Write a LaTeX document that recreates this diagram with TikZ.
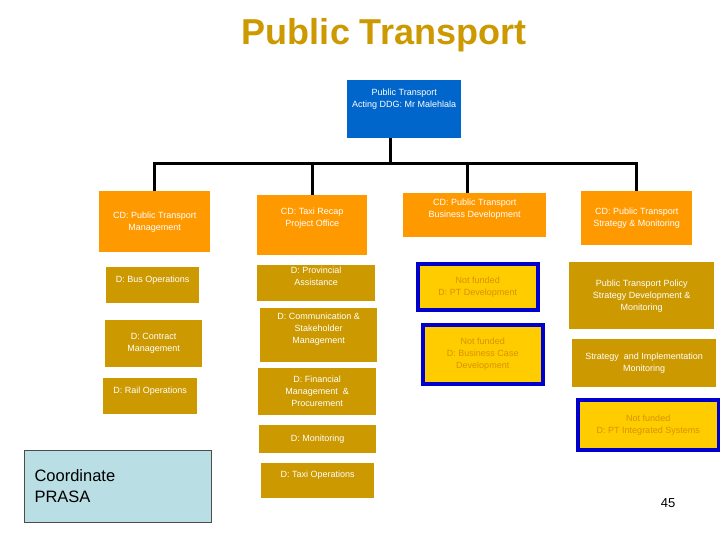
\documentclass[tikz,border=0pt]{standalone}
\usepackage{fontspec}
\setmainfont{Liberation Sans}
\definecolor{org}{HTML}{FF9900}
\definecolor{gld}{HTML}{CC9900}
\definecolor{yel}{HTML}{FFCC00}
\definecolor{ytx}{HTML}{D99200}
\definecolor{bbl}{HTML}{0066CC}
\definecolor{nbl}{HTML}{0000CC}
\definecolor{lbl}{HTML}{B9DFE5}
\begin{document}
\begin{tikzpicture}[x=1pt,y=-1pt,
  bx/.style={anchor=north west,inner sep=0pt,align=center,text=white,font=\fontsize{9}{12}\selectfont},
  ob/.style={bx,fill=org},
  gb/.style={bx,fill=gld},
  nb/.style={bx,fill=yel,draw=nbl,line width=3.5pt,text=ytx},
  ln/.style={line width=3pt}]
\useasboundingbox[fill=white] (0,0) rectangle (720,540);
\node[font=\bfseries\fontsize{36}{42}\selectfont,text=gld] (title) at (384,35) {Public Transport};
\node[bx,fill=bbl,minimum width=114pt,minimum height=58pt] (top) at (347,80) {Public Transport\\Acting DDG: Mr Malehlala\\[10pt]};
% column 1
\node[ob,minimum width=111pt,minimum height=61pt] (c1) at (99,191) {CD: Public Transport\\Management};
\node[gb,minimum width=93pt,minimum height=36pt] (c1a) at (106,267) {D: Bus Operations\\[0pt]};
\node[gb,minimum width=97pt,minimum height=47pt] (c1b) at (105,320) {D: Contract\\Management};
\node[gb,minimum width=94pt,minimum height=36pt] (c1c) at (103,378) {D: Rail Operations\\[0pt]};
\node[anchor=north west,draw=black!70,fill=lbl,minimum width=187pt,minimum height=72pt,inner sep=0pt] (prasa) at (24,450) {};
\node[anchor=west,align=left,font=\fontsize{16.5}{21}\selectfont] (prasat) at (31,486) {Coordinate\\PRASA};
% column 2
\node[ob,minimum width=110pt,minimum height=60pt] (c2) at (257,195) {CD: Taxi Recap\\Project Office\\[4pt]};
\node[gb,minimum width=118pt,minimum height=36pt] (c2a) at (257,265) {D: Provincial\\Assistance\\[2pt]};
\node[gb,minimum width=117pt,minimum height=54pt] (c2b) at (260,308) {D: Communication \&\\Stakeholder\\Management\\[2pt]};
\node[gb,minimum width=118pt,minimum height=47pt] (c2c) at (258,368) {D: Financial\\Management \ \&\\Procurement};
\node[gb,minimum width=117pt,minimum height=28pt] (c2d) at (259,425) {D: Monitoring};
\node[gb,minimum width=113pt,minimum height=35pt] (c2e) at (261,463) {D: Taxi Operations\\[0pt]};
% column 3
\node[ob,minimum width=143pt,minimum height=44pt] (c3) at (403,193) {CD: Public Transport\\Business Development\\[2pt]};
\node[nb,minimum width=120pt,minimum height=46pt] (c3a) at (416,262) {Not funded\\D: PT Development};
\node[nb,minimum width=120pt,minimum height=59pt] (c3b) at (421,323) {Not funded\\D: Business Case\\Development};
% column 4
\node[ob,minimum width=111pt,minimum height=54pt] (c4) at (581,191) {CD: Public Transport\\Strategy \& Monitoring};
\node[gb,minimum width=145pt,minimum height=67pt] (c4a) at (569,262) {Public Transport Policy\\Strategy Development \&\\Monitoring};
\node[gb,minimum width=144pt,minimum height=48pt] (c4b) at (572,339) {Strategy \ and Implementation\\Monitoring};
\node[nb,minimum width=141pt,minimum height=50pt] (c4c) at (576,398) {Not funded\\D: PT Integrated Systems};
\node[font=\fontsize{13}{16}\selectfont] (pg) at (668,503) {45};
% connectors
\coordinate (j) at (390,164);
\coordinate (t3) at (467,193);
\draw[ln] (j |- top.south) -- (j);
\draw[ln] (j) -| (c1.north);
\draw[ln] (j) -| (c2.north);
\draw[ln] (j) -| (t3);
\draw[ln] (j) -| (c4.north);
\end{tikzpicture}
\end{document}
